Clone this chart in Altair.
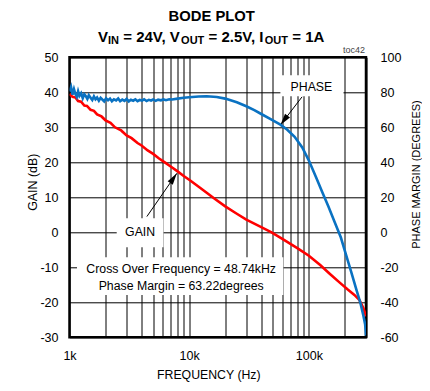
import altair as alt
import pandas as pd

FONT = "Liberation Sans, Arial"

# ---------------- data ----------------
gain_freq_hz = [1000, 1060, 1120, 1180, 1250, 1330, 1400, 1500, 1600, 1700, 1850, 2000,
                2200, 2400, 2700, 3000, 3300, 3700, 4000, 4500, 5000, 5600, 6300, 7000,
                8000, 9000, 10000, 12000, 14000, 16000, 20000, 25000, 30000, 40000, 48740,
                60000, 80000, 100000, 125000, 150000, 180000, 210000, 240000, 265000,
                285000, 300000]
gain_db = [39.5, 38.7, 38.5, 37.5, 37.3, 36.2, 36.1, 35.0, 34.7, 33.7, 33.1, 32.0,
           31.3, 30.0, 29.1, 27.7, 26.9, 25.5, 24.8, 23.4, 22.4, 21.1, 19.9, 18.8,
           17.4, 16.1, 15.0, 13.0, 11.3, 9.8, 7.4, 5.3, 3.6, 1.5, 0.0,
           -1.9, -4.5, -6.7, -9.4, -11.9, -14.3, -16.3, -17.9, -19.4,
           -21.6, -24.0]

phase_freq_hz = [1000, 1030, 1060, 1090, 1120, 1150, 1180, 1210, 1250, 1290, 1330, 1370,
                 1410, 1450, 1500, 1550, 1600, 1650, 1700, 1760, 1820, 1880, 1950, 2020,
                 2100, 2180, 2260, 2350, 2450, 2550, 2650, 2760, 2880, 3000, 3130, 3260,
                 3400, 3550, 3700, 3860, 4030, 4200, 4400, 4600, 4800, 5000, 5250, 5500,
                 5800, 6100, 6400, 6800, 7200, 8000, 9000, 10000, 12000, 14000, 17000,
                 20000, 25000, 30000, 35000, 40000, 48740, 57800, 66000, 76000, 88000,
                 100000, 115000, 130000, 145000, 165000, 185000, 205000, 225000, 250000,
                 270000, 285000, 295000, 300000]
phase_deg = [80.5, 83.0, 78.6, 81.8, 79.0, 77.4, 80.6, 78.0, 79.5, 76.6, 78.9, 77.8,
             76.2, 78.3, 76.9, 75.6, 77.7, 76.0, 77.0, 75.2, 76.8, 75.9, 74.8, 76.6,
             75.5, 76.4, 74.9, 76.0, 75.4, 76.5, 74.9, 75.8, 75.1, 76.2, 74.8, 75.7,
             75.2, 76.0, 74.9, 75.6, 75.3, 76.0, 75.0, 75.7, 75.3, 75.9, 75.1, 75.8,
             75.4, 75.9, 75.5, 76.0, 75.9, 76.4, 76.9, 77.2, 77.6, 77.7, 77.3,
             76.4, 74.3, 72.0, 69.8, 67.6, 64.4, 61.5, 58.6, 54.6, 48.5,
             41.0, 31.3, 22.6, 15.0, 5.5, -3.0, -13.2, -22.3, -33.0,
             -40.6, -47.5, -52.5, -59.0]

grid_freq_hz = [1000, 2000, 3000, 4000, 5000, 6000, 7000, 8000, 9000,
                10000, 20000, 30000, 40000, 50000, 60000, 70000, 80000, 90000,
                100000, 200000, 300000]
x_tick_values = [1000, 10000, 100000]
x_tick_labels = ["1k", "10k", "100k"]
gain_ticks = [-30, -20, -10, 0, 10, 20, 30, 40, 50]
phase_ticks = [-60, -40, -20, 0, 20, 40, 60, 80, 100]

title_text = "BODE PLOT"
subtitle_parts = ["V", "IN", "= 24V, V", "OUT", "= 2.5V, I", "OUT", "= 1A"]
subtitle_is_sub = [False, True, False, True, False, True, False]

# annotations (frequency in Hz, level in dB of the gain axis)
note_texts = ["PHASE", "GAIN", "Cross Over Frequency = 48.74kHz", "Phase Margin = 63.22degrees"]
note_freq = [105000, 3890, 8570, 8570]
note_db = [41.6, 0.1, -10.5, -15.3]

box_f1 = [57800, 2480, 1155]
box_f2 = [194500, 6100, 61200]
box_db1 = [38.9, -4.3, -17.9]
box_db2 = [44.9, 4.0, -7.1]

arrow_f1 = [87700, 4430]
arrow_db1 = [38.7, 4.5]
arrow_f2 = [57800, 7890]
arrow_db2 = [30.65, 16.86]
arrow_angle = [217.5, 34.7]

# ---------------- chart ----------------
W, H = 296.5, 280

x_scale = alt.Scale(type="log", domain=[1000, 300000], nice=False)
gain_scale = alt.Scale(domain=[-30, 50], nice=False)
phase_scale = alt.Scale(domain=[-60, 100], nice=False)

label_expr = " : ".join(
    f"datum.value == {v} ? '{t}'" for v, t in zip(x_tick_values, x_tick_labels)
) + " : ''"

x_axis = alt.Axis(values=grid_freq_hz, labelExpr=label_expr, title="FREQUENCY (Hz)",
                  grid=True, gridColor="black", gridWidth=1, gridOpacity=1,
                  ticks=False, domain=False, labelOverlap=False, labelFlush=False,
                  labelFont=FONT, labelFontSize=12.5, labelColor="black", labelPadding=12,
                  labelBaseline="top",
                  titleFont=FONT, titleFontSize=12.3, titleFontWeight="normal",
                  titleColor="black", titleX=138.8, titleY=41.2,
                  titleBaseline="alphabetic", titleAlign="center")

gain_axis = alt.Axis(values=gain_ticks, grid=True, gridColor="black", gridWidth=1,
                     gridOpacity=1, ticks=False, domain=False, labelExpr="datum.value + ''",
                     labelFont=FONT, labelFontSize=12.5, labelColor="black", labelPadding=11.5,
                     title="GAIN (dB)", titleFont=FONT, titleFontSize=12.4,
                     titleFontWeight="normal", titleColor="black",
                     titleX=-37.5, titleY=124.4, titleAngle=270,
                     titleAlign="center", titleBaseline="middle")

phase_axis = alt.Axis(values=phase_ticks, orient="right", grid=False, ticks=False,
                      domain=False, labelExpr="datum.value + ''",
                      labelFont=FONT, labelFontSize=12.5, labelColor="black",
                      labelPadding=14, title="PHASE MARGIN (DEGREES)", titleFont=FONT,
                      titleFontSize=11, titleFontWeight="normal", titleColor="black",
                      titleX=50, titleY=116.7, titleAngle=270,
                      titleAlign="center", titleBaseline="middle")

gain_df = pd.DataFrame({"f": gain_freq_hz, "v": gain_db})
phase_df = pd.DataFrame({"f": phase_freq_hz, "v": phase_deg})

gain_line = alt.Chart(gain_df).mark_line(color="#FF0000", strokeWidth=2.6, clip=True).encode(
    x=alt.X("f:Q", scale=x_scale, axis=x_axis),
    y=alt.Y("v:Q", scale=gain_scale, axis=gain_axis),
)

box_df = pd.DataFrame({"f1": box_f1, "f2": box_f2, "d1": box_db1, "d2": box_db2})
boxes = alt.Chart(box_df).mark_rect(color="white").encode(
    x=alt.X("f1:Q", scale=x_scale, axis=x_axis), x2="f2:Q",
    y=alt.Y("d1:Q", scale=gain_scale, axis=gain_axis), y2="d2:Q",
)

note_df = pd.DataFrame({"f": note_freq, "d": note_db, "t": note_texts})
notes = alt.Chart(note_df).mark_text(font=FONT, fontSize=12.3, color="black",
                                     align="center", baseline="middle").encode(
    x=alt.X("f:Q", scale=x_scale, axis=x_axis),
    y=alt.Y("d:Q", scale=gain_scale, axis=gain_axis),
    text="t:N",
)

arrow_df = pd.DataFrame({"f1": arrow_f1, "d1": arrow_db1, "f2": arrow_f2,
                         "d2": arrow_db2, "a": arrow_angle})
arrow_lines = alt.Chart(arrow_df).mark_rule(color="black", strokeWidth=1).encode(
    x=alt.X("f1:Q", scale=x_scale, axis=x_axis), x2="f2:Q",
    y=alt.Y("d1:Q", scale=gain_scale, axis=gain_axis), y2="d2:Q",
)
arrow_heads = alt.Chart(arrow_df).mark_point(
    shape="M0,0L0.45,1.7L-0.45,1.7Z", filled=True, color="black", opacity=1,
    size=190, strokeWidth=0,
).encode(
    x=alt.X("f2:Q", scale=x_scale, axis=x_axis),
    y=alt.Y("d2:Q", scale=gain_scale, axis=gain_axis),
    angle=alt.Angle("a:Q", scale=None),
)

# title pieces (pixel positions relative to plot area)
sub_x = [28.5, 38.5, 53.7, 111.6, 139.0, 195.3, 222.7]
title_layers = [
    alt.Chart(pd.DataFrame({"t": [title_text]})).mark_text(
        font=FONT, fontSize=14.8, fontWeight="bold", color="black",
        align="center", baseline="alphabetic").encode(
        x=alt.value(142.2), y=alt.value(-36.8), text="t:N")
]
for txt, is_sub, xp in zip(subtitle_parts, subtitle_is_sub, sub_x):
    title_layers.append(
        alt.Chart(pd.DataFrame({"t": [txt]})).mark_text(
            font=FONT, fontSize=11 if is_sub else 15, fontWeight="bold", color="black",
            align="left", baseline="alphabetic").encode(
            x=alt.value(xp), y=alt.value(-13 if is_sub else -15.6), text="t:N")
    )
title_layers.append(
    alt.Chart(pd.DataFrame({"t": ["toc42"]})).mark_text(
        font=FONT, fontSize=9, color="#444444", align="right",
        baseline="alphabetic").encode(x=alt.value(W - 1), y=alt.value(-4), text="t:N")
)

gain_group = alt.layer(gain_line, boxes, notes, arrow_lines, arrow_heads, *title_layers)

phase_line = alt.Chart(phase_df).mark_line(color="#0A72C2", strokeWidth=2.6, clip=True).encode(
    x=alt.X("f:Q", scale=x_scale, axis=x_axis),
    y=alt.Y("v:Q", scale=phase_scale, axis=phase_axis),
)

chart = alt.layer(gain_group, phase_line).resolve_scale(y="independent").properties(
    width=W, height=H,
    autosize=alt.AutoSizeParams(type="none"),
    padding={"left": 61.5, "top": 49.3, "right": 56, "bottom": 45.7},
    background="white",
).configure_view(stroke="black", strokeWidth=2.5)

chart.save("out.html", embed_options={"renderer": "svg", "actions": False})
